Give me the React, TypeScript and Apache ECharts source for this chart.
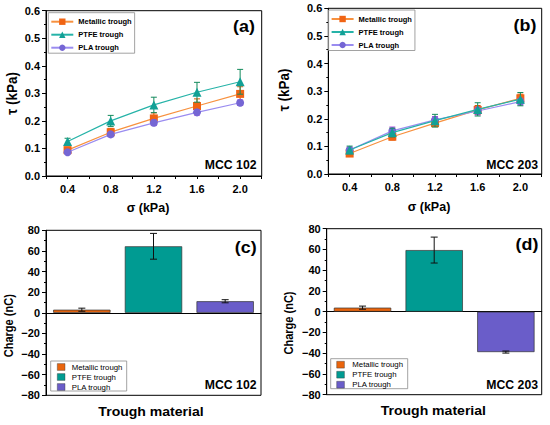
import React, { useEffect, useRef } from 'react';
import * as echarts from 'echarts';

const FONT = '"Liberation Sans", Arial, Helvetica, sans-serif';

const seriesNames = ['Metallic trough', 'PTFE trough', 'PLA trough'];
const sigma = [0.4, 0.8, 1.2, 1.6, 2.0];

// Panel (a) MCC 102
const tauA_metal = [0.094, 0.159, 0.209, 0.254, 0.298];
const tauA_ptfe = [0.125, 0.2, 0.258, 0.304, 0.342];
const tauA_pla = [0.086, 0.151, 0.193, 0.231, 0.266];
const errA_metal = [0.008, 0.014, 0.02, 0.026, 0.026];
const errA_ptfe = [0.012, 0.02, 0.028, 0.036, 0.045];
const errA_pla = [0.006, 0.008, 0.01, 0.01, 0.01];

// Panel (b) MCC 203
const tauB_metal = [0.074, 0.135, 0.184, 0.232, 0.274];
const tauB_ptfe = [0.087, 0.15, 0.193, 0.234, 0.271];
const tauB_pla = [0.087, 0.156, 0.196, 0.228, 0.262];
const errB_metal = [0.01, 0.012, 0.012, 0.016, 0.015];
const errB_ptfe = [0.014, 0.016, 0.023, 0.024, 0.024];
const errB_pla = [0.01, 0.014, 0.012, 0.014, 0.012];

// Panels (c), (d) charge
const materials = ['Metallic trough', 'PTFE trough', 'PLA trough'];
const chargeC = [3.0, 64.5, 11.2];
const chargeCErr = [1.5, 12.5, 1.5];
const chargeD = [3.9, 59.4, -38.9];
const chargeDErr = [1.5, 12.5, 1.0];

const markerColors = ['#f06414', '#12a096', '#7566d4'];
const lineColors = ['#f7913f', '#26b3a8', '#9a8cf0'];
const errColors = ['#e05a00', '#138a5c', '#b23ee0'];
const symbols = ['rect', 'triangle', 'circle'];
const symbolSizes = [8, 9, 8];
const barColors = ['#ea650d', '#009b92', '#6a5dc9'];

const grids = [
  { left: 46, top: 10.7, width: 215.7, height: 165.3 },
  { left: 328.3, top: 8.3, width: 213.4, height: 165.7 },
  { left: 46, top: 230.3, width: 215, height: 165 },
  { left: 326.7, top: 228.7, width: 215, height: 166 },
];

const errRender = (color: string, half: number) => (params: any, api: any) => {
  const x = api.value(0);
  const lo = api.value(1);
  const hi = api.value(2);
  const p1 = api.coord([x, hi]);
  const p2 = api.coord([x, lo]);
  const st = { stroke: color, lineWidth: 1 };
  return {
    type: 'group',
    children: [
      { type: 'line', shape: { x1: p1[0], y1: p1[1], x2: p2[0], y2: p2[1] }, style: st },
      { type: 'line', shape: { x1: p1[0] - half, y1: p1[1], x2: p1[0] + half, y2: p1[1] }, style: st },
      { type: 'line', shape: { x1: p2[0] - half, y1: p2[1], x2: p2[0] + half, y2: p2[1] }, style: st },
    ],
  };
};

function text(t: string, x: number, y: number, size: number, opts: any = {}) {
  return {
    type: 'text',
    x,
    y,
    rotation: opts.rotation || 0,
    scaleX: opts.scaleX || 1,
    scaleY: opts.scaleY || 1,
    z: 100,
    style: {
      text: t,
      font: `${opts.weight || 'bold'} ${size}px ${FONT}`,
      fill: '#000',
      align: opts.align || 'center',
      verticalAlign: 'middle',
      textAlign: opts.align || 'center',
      textVerticalAlign: 'middle',
    },
  };
}

function barLegend(bx: number, by: number, bw: number, bh: number, iconX: number, textX: number, rows: number[]) {
  const els: any[] = [
    { type: 'rect', shape: { x: bx, y: by, width: bw, height: bh }, style: { fill: '#fff', stroke: '#8a8a8a', lineWidth: 0.8 }, z: 90 },
  ];
  materials.forEach((m, i) => {
    els.push({ type: 'rect', shape: { x: iconX, y: rows[i] - 3.4, width: 7.7, height: 6.8 }, style: { fill: barColors[i], stroke: '#333', lineWidth: 0.4 }, z: 95 });
    els.push(text(m, textX, rows[i], 7.8, { align: 'left', weight: 'normal' }));
  });
  return els;
}

export default function App() {
  const ref = useRef<HTMLDivElement>(null);
  useEffect(() => {
    if (!ref.current) return;
    const chart = echarts.init(ref.current, null, { renderer: 'svg' });

    const axisLabelStyle = { color: '#000', fontFamily: FONT, fontWeight: 'bold', fontSize: 11 };
    const lineXAxis = (gi: number) => ({
      type: 'value',
      gridIndex: gi,
      min: 0.2,
      max: 2.2,
      interval: 0.2,
      axisLine: { show: true, onZero: false, lineStyle: { color: '#000', width: 1 } },
      axisTick: { show: true, length: 3, lineStyle: { color: '#000' } },
      axisLabel: {
        ...axisLabelStyle,
        margin: 7,
        formatter: (v: number) => {
          const k = Math.round(v * 10);
          return k % 4 === 0 && k >= 4 && k <= 20 ? (k / 10).toFixed(1) : '';
        },
      },
      splitLine: { show: false },
    });
    const lineYAxis = (gi: number) => ({
      type: 'value',
      gridIndex: gi,
      min: 0,
      max: 0.6,
      interval: 0.1,
      axisLine: { show: true, lineStyle: { color: '#000', width: 1 } },
      axisTick: { show: true, length: 4, lineStyle: { color: '#000' } },
      minorTick: { show: true, splitNumber: 2, length: 2, lineStyle: { color: '#000' } },
      axisLabel: { ...axisLabelStyle, margin: 6, formatter: (v: number) => v.toFixed(1) },
      splitLine: { show: false },
      minorSplitLine: { show: false },
    });
    const barXAxis = (gi: number) => ({
      type: 'category',
      gridIndex: gi,
      data: materials,
      boundaryGap: true,
      axisLine: { show: true, onZero: true, lineStyle: { color: '#000', width: 1 } },
      axisTick: { show: false },
      axisLabel: { show: false },
      splitLine: { show: false },
    });
    const barYAxis = (gi: number) => ({
      type: 'value',
      gridIndex: gi,
      min: -80,
      max: 80,
      interval: 20,
      axisLine: { show: true, onZero: false, lineStyle: { color: '#000', width: 1 } },
      axisTick: { show: true, length: 4, lineStyle: { color: '#000' } },
      minorTick: { show: true, splitNumber: 2, length: 2, lineStyle: { color: '#000' } },
      axisLabel: { ...axisLabelStyle, margin: 6, formatter: (v: number) => (v < 0 ? '\u2212' + Math.abs(v) : String(v)) },
      splitLine: { show: false },
      minorSplitLine: { show: false },
    });

    const series: any[] = [];
    const addLinePanel = (gi: number, vals: number[][], errs: number[][], order: number[]) => {
      order.forEach((i, oi) => {
        series.push({
          type: 'custom',
          xAxisIndex: gi,
          yAxisIndex: gi,
          renderItem: errRender(errColors[i], 3),
          encode: { x: 0, y: [1, 2] },
          data: sigma.map((s, k) => [s, vals[i][k] - errs[i][k], vals[i][k] + errs[i][k]]),
          z: 2 + oi * 2,
          silent: true,
        });
        series.push({
          type: 'line',
          name: seriesNames[i],
          xAxisIndex: gi,
          yAxisIndex: gi,
          data: sigma.map((s, k) => [s, vals[i][k]]),
          symbol: symbols[i],
          symbolSize: symbolSizes[i],
          itemStyle: { color: markerColors[i] },
          lineStyle: { color: lineColors[i], width: 1.2 },
          z: 3 + oi * 2,
        });
      });
    };
    addLinePanel(0, [tauA_metal, tauA_ptfe, tauA_pla], [errA_metal, errA_ptfe, errA_pla], [0, 2, 1]);
    addLinePanel(1, [tauB_metal, tauB_ptfe, tauB_pla], [errB_metal, errB_ptfe, errB_pla], [0, 2, 1]);

    const addBarPanel = (gi: number, vals: number[], errs: number[]) => {
      series.push({
        type: 'bar',
        xAxisIndex: gi,
        yAxisIndex: gi,
        barCategoryGap: '20%',
        data: vals.map((v, i) => ({ value: v, itemStyle: { color: barColors[i], borderColor: '#333', borderWidth: 0.7 } })),
        z: 2,
      });
      series.push({
        type: 'custom',
        xAxisIndex: gi,
        yAxisIndex: gi,
        renderItem: errRender('#111', 3.5),
        encode: { x: 0, y: [1, 2] },
        data: vals.map((v, i) => [i, v - errs[i], v + errs[i]]),
        z: 5,
        silent: true,
      });
    };
    addBarPanel(2, chargeC, chargeCErr);
    addBarPanel(3, chargeD, chargeDErr);

    const legendCommon = {
      orient: 'vertical',
      itemWidth: 22,
      itemHeight: 8,
      itemGap: 5,
      borderColor: '#8a8a8a',
      borderWidth: 0.8,
      backgroundColor: '#fff',
      borderRadius: 0,
      textStyle: { fontFamily: FONT, fontWeight: 'bold', fontSize: 7.5, color: '#000' },
      data: seriesNames,
      selectedMode: false,
    };

    const graphic: any[] = [
      text('(a)', 244, 25.7, 17, { scaleX: 1.05 }),
      text('(b)', 525, 25, 17, { scaleX: 1.05 }),
      text('(c)', 245.7, 247, 17, { scaleX: 1.05 }),
      text('(d)', 527, 244.3, 17, { scaleX: 1.05 }),
      text('MCC 102', 256.5, 165, 12, { align: 'right', scaleX: 1.02 }),
      text('MCC 203', 538, 165, 12, { align: 'right', scaleX: 1.02 }),
      text('MCC 102', 256.5, 385.3, 12, { align: 'right', scaleX: 1.02 }),
      text('MCC 203', 538, 384.7, 12, { align: 'right', scaleX: 1.02 }),
      text('\u03c3 (kPa)', 148, 208, 12.5, { scaleX: 1.0 }),
      text('\u03c3 (kPa)', 429, 207, 12.5, { scaleX: 1.0 }),
      text('\u03c4 (kPa)', 12, 93.5, 13.5, { rotation: Math.PI / 2, scaleX: 1.0, scaleY: 1.05 }),
      text('\u03c4 (kPa)', 284.3, 90, 13.5, { rotation: Math.PI / 2, scaleX: 1.0, scaleY: 1.05 }),
      text('Trough material', 151, 412, 13.5, { scaleX: 1.04 }),
      text('Trough material', 433.3, 411, 13.5, { scaleX: 1.04 }),
      text('Charge (nC)', 9, 325.7, 12, { rotation: Math.PI / 2, scaleX: 0.92, scaleY: 1.05 }),
      text('Charge (nC)', 289, 323, 12, { rotation: Math.PI / 2, scaleX: 0.92, scaleY: 1.05 }),
      ...barLegend(50.7, 361, 76, 30, 57.3, 71.7, [367, 377, 387]),
      ...barLegend(330.7, 358.7, 77, 30, 336.7, 352.3, [364.7, 374.7, 384.7]),
    ];

    chart.setOption({
      animation: false,
      backgroundColor: '#fff',
      grid: grids.map((g) => ({ ...g, show: true, borderColor: '#000', borderWidth: 1, backgroundColor: 'transparent', containLabel: false })),
      xAxis: [lineXAxis(0), lineXAxis(1), barXAxis(2), barXAxis(3)],
      yAxis: [lineYAxis(0), lineYAxis(1), barYAxis(2), barYAxis(3)],
      legend: [
        { ...legendCommon, left: 48.3, top: 12.7, padding: [5, 3, 1.5, 2] },
        { ...legendCommon, left: 328.6, top: 10, padding: [5, 3, 1.5, 2] },
      ],
      series,
      graphic,
    });
    return () => chart.dispose();
  }, []);
  return <div ref={ref} style={{ position: 'absolute', left: 0, top: 0, width: 550, height: 425 }} />;
}
